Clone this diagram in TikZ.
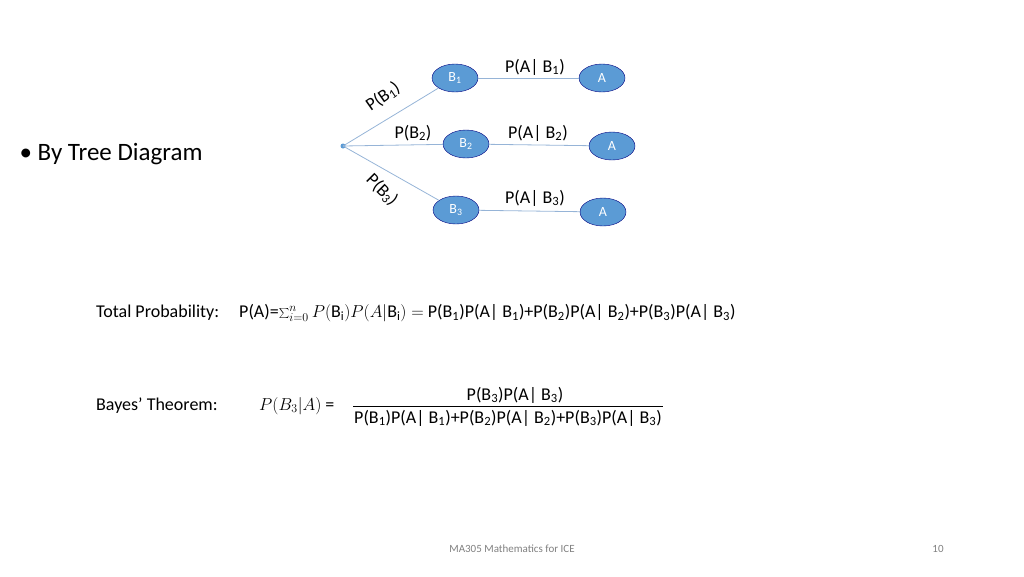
\documentclass[tikz,border=0pt]{standalone}
\usepackage{fontspec}
\setmainfont{Carlito}
\usetikzlibrary{shapes.geometric}
\definecolor{nodeblue}{RGB}{91,155,213}
\definecolor{edgeblue}{RGB}{150,180,215}
\tikzset{
  event/.style={ellipse, draw=blue!50!black, fill=nodeblue, text=white,
    minimum width=46pt, minimum height=28pt, inner sep=0pt, font=\fontsize{14}{14}\selectfont},
  branch/.style={draw=edgeblue, line width=0.8pt},
  prob/.style={font=\fontsize{18}{18}\selectfont, inner sep=1pt}
}
\begin{document}
\begin{tikzpicture}[x=1pt, y=-1pt]
    \useasboundingbox (0,0) rectangle (1024,576);

    % Tree
    \fill[nodeblue] (343,146) circle (2.5pt);
    \coordinate (root) at (343,146);
    \node[event] (b1) at (455,78) {B\textsubscript{1}};
    \node[event] (b2) at (466,144) {B\textsubscript{2}};
    \node[event] (b3) at (456,210) {B\textsubscript{3}};
    \node[event] (a1) at (602,78) {A};
    \node[event] (a2) at (612,146) {A};
    \node[event] (a3) at (603,212) {A};

    \draw[branch] (root) -- (b1);
    \draw[branch] (root) -- (b2);
    \draw[branch] (root) -- (b3);
    \draw[branch] (b1) -- (a1);
    \draw[branch] (b2) -- (a2);
    \draw[branch] (b3) -- (a3);

    % Branch labels
    \node[prob, rotate=35] (pb1) at (383,97) {P(B\textsubscript{1})};
    \node[prob] (pb2) at (413,133) {P(B\textsubscript{2})};
    \node[prob, rotate=-45] (pb3) at (382,190) {P(B\textsubscript{3})};
    \node[prob] (pab1) at (535,67) {P(A| B\textsubscript{1})};
    \node[prob] (pab2) at (538,133) {P(A| B\textsubscript{2})};
    \node[prob] (pab3) at (535,198) {P(A| B\textsubscript{3})};

    % Bullet
    \node[anchor=west, font=\fontsize{25}{25}\selectfont] (bullet) at (16,154) {\textbullet\ By Tree Diagram};

    % Total probability
    \node[anchor=west, prob] (total) at (95,313) {Total Probability:};
    \node[anchor=west, prob] (totalf) at (238,313)
      {P(A)=$\sum_{i=0}^{n} P(\mathrm{B_i})P(A|\mathrm{B_i}) =$ P(B\textsubscript{1})P(A| B\textsubscript{1})+P(B\textsubscript{2})P(A| B\textsubscript{2})+P(B\textsubscript{3})P(A| B\textsubscript{3})};

    % Bayes
    \node[anchor=west, prob] (bayes) at (95,406) {Bayes’ Theorem:};
    \node[anchor=west, prob] (bayesl) at (258,406) {$P(B_3|A)$ =};
    \node[prob] (num) at (515,395) {P(B\textsubscript{3})P(A| B\textsubscript{3})};
    \node[prob] (den) at (508,418) {P(B\textsubscript{1})P(A| B\textsubscript{1})+P(B\textsubscript{2})P(A| B\textsubscript{2})+P(B\textsubscript{3})P(A| B\textsubscript{3})};
    \draw[line width=0.6pt] (den.west |- 0,406) -- (den.east |- 0,406);

    % Footer
    \node[text=gray, font=\fontsize{11}{11}\selectfont] (footer) at (512,549) {MA305 Mathematics for ICE};
    \node[text=gray, font=\fontsize{11}{11}\selectfont] (page) at (938,549) {10};
\end{tikzpicture}
\end{document}
